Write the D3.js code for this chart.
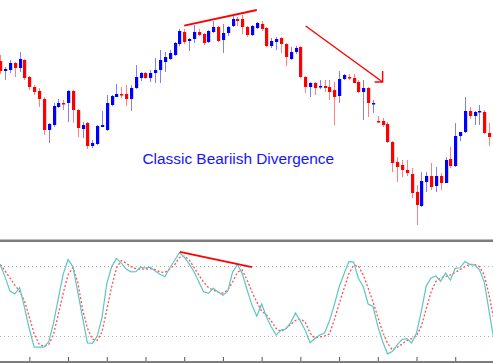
<!DOCTYPE html>
<html>
<head>
<meta charset="utf-8">
<script src="https://cdn.jsdelivr.net/npm/d3@7"></script>
<style>
  body { margin: 0; background: #fff; }
  svg { display: block; }
</style>
</head>
<body>
<div id="chart"></div>
<script>
// price candles, one entry per bar (blue = up, red = down)
const opens  = [189,179,180,187,182,190,173,163,159,151,120,125,143,147,147,159,140,121,127,104,106,123,120,145,153,156,156,151,162,172,177,172,177,180,188,191,195,206,218,209,211,218,216,208,218,223,210,217,224,231,231,223,215,222,226,222,204,208,212,206,191,198,203,173,163,167,163,164,163,160,154,171,173,172,168,158,162,146,129,129,126,108,88,85,80,76,58,44,68,74,64,74,67,91,84,114,118,139,134,138,138,117,119];
const highs  = [195,183,190,188,198,191,174,165,162,153,127,147,151,150,160,160,141,128,128,110,125,139,155,155,166,163,165,165,185,178,178,180,192,200,198,200,208,221,221,212,225,221,217,220,229,224,226,224,234,233,235,224,225,228,229,223,212,213,213,207,203,204,204,174,168,168,170,170,170,168,179,176,176,176,170,170,163,150,134,132,128,109,93,90,90,82,65,78,78,87,83,77,93,103,127,118,153,143,139,145,140,127,125];
const lows   = [176,170,177,173,178,170,160,155,143,115,107,123,142,140,128,127,113,112,101,102,105,123,119,144,153,152,144,139,161,169,171,168,167,167,178,190,194,204,206,199,207,214,205,207,217,208,197,214,223,224,216,213,214,221,219,203,202,200,197,184,190,196,172,157,153,155,161,158,150,125,147,170,170,167,157,130,133,137,127,123,107,78,68,73,74,52,25,43,58,60,58,60,67,82,83,109,117,131,125,125,116,104,110];
const closes = [179,181,187,182,191,172,163,158,151,120,126,144,147,146,159,140,122,125,104,107,124,125,147,154,156,155,151,162,173,177,172,177,180,190,193,197,207,219,208,211,218,215,207,219,223,209,217,223,231,229,223,215,224,227,221,204,209,211,206,193,198,202,173,163,167,162,164,162,158,153,171,175,172,167,158,162,147,147,128,125,108,87,83,80,77,57,45,69,74,63,74,67,90,84,114,118,139,134,138,139,117,113,122];

// stochastic oscillator, %K (solid) and %D (dotted)
const stochK = [81,70.5,58.5,56,61.5,44.5,26,10.5,10.5,10.5,15,31,52.5,73,85.5,79.5,58,35.7,14,13.7,19.5,35.4,65,79.3,86.5,82.5,77.4,75,75.2,79,78.3,79,75.7,73,70.8,78.3,84.7,91.5,87.7,82,75.3,66.5,58,56.6,60.9,57.7,55,58.5,74.8,81.3,73.5,59.4,46.5,37,47.4,36.3,27.7,20.8,25,26,31.5,39.7,32.8,25,14.2,17.8,20.8,22.5,32.8,46.5,62,73,83.8,83.4,69.3,62.4,47.4,45.3,28.5,15.3,4.7,6.7,12.3,17,17.8,14,22.5,41.4,62.8,69.7,71.4,67,74,68,78,78.5,83.8,81.4,80.8,77,66.3,41.4,16.5];
const stochD = [81.3,75.7,69.7,63.7,58.1,50,36.3,21.7,13.1,11,12.7,21.3,38.8,56.8,72.3,78.7,66.3,42.7,26.8,17.4,16.1,23.4,42.3,62,78.3,84.7,82.5,79.5,77.8,77.4,77.4,77.8,77,74.8,74.4,77.4,80.8,87.3,88.5,85.5,79,72.3,66.3,61.5,59.4,57.7,56.8,59.4,66.3,74.8,76.5,68,57.7,49,41.4,38,32.8,26.4,23.8,26.4,29.8,33.3,34.5,32,22.5,18.3,19.1,20,21.7,33.7,47.4,60.3,73.1,80.8,80,72.3,61.1,49.5,36.3,23.4,14,8,10.1,13.1,16.1,17.8,20,28.5,43.1,57.7,66.7,69.7,71,72.3,74.4,77,79.5,81.3,81.4,79.5,72.3,55,33.7];
const levels = [20, 80];
const tickBars = [6, 14, 22, 30, 38, 46, 54, 62, 70, 78, 86, 94];

// annotations: [bar, value] pairs
const priceTrend = [[38, 224.3], [53, 240]];
const priceArrow = [[63.1, 224], [79, 168]];
const stochTrend = [[37.1, 92.2], [52, 79.1]];

const width = 493, height = 363;

const svg = d3.select("#chart").append("svg")
  .attr("width", width)
  .attr("height", height);

svg.append("rect").attr("width", width).attr("height", height).attr("fill", "#fff");

const x = d3.scaleLinear().domain([0, 101]).range([0.3, 489.1]);
const y = d3.scaleLinear().domain([0, 250]).range([250, 0]);
const ys = d3.scaleLinear().domain([0, 100]).range([359.3, 242.7]);

const blue = "#0000ff", red = "#ff0000";
const candles = opens.map((o, i) => ({ i, o, h: highs[i], l: lows[i], c: closes[i] }));

const cg = svg.append("g");
cg.selectAll("line.wick")
  .data(candles)
  .join("line")
    .attr("class", "wick")
    .attr("x1", d => Math.round(x(d.i)) + 0.5)
    .attr("x2", d => Math.round(x(d.i)) + 0.5)
    .attr("y1", d => y(d.h))
    .attr("y2", d => y(d.l))
    .attr("stroke", d => d.c >= d.o ? "#8080ff" : "#ff8080")
    .attr("stroke-width", 1);

cg.selectAll("rect.body")
  .data(candles)
  .join("rect")
    .attr("class", "body")
    .attr("x", d => Math.round(x(d.i)) - 1)
    .attr("width", 3.2)
    .attr("y", d => y(Math.max(d.o, d.c)))
    .attr("height", d => Math.max(1.5, Math.abs(y(d.o) - y(d.c))))
    .attr("fill", d => d.c >= d.o ? blue : red);

// red divergence line and arrow over the prices
const pline = d3.line().x(d => x(d[0])).y(d => y(d[1]));
svg.append("path").attr("d", pline(priceTrend))
  .attr("stroke", red).attr("stroke-width", 1.8).attr("fill", "none");
svg.append("path").attr("d", pline(priceArrow))
  .attr("stroke", red).attr("stroke-width", 1.4).attr("fill", "none");
const tip = priceArrow[1];
svg.append("path")
  .attr("d", `M${x(tip[0])},${y(tip[1]) - 11}L${x(tip[0])},${y(tip[1])}L${x(tip[0]) - 8},${y(tip[1])}`)
  .attr("stroke", red).attr("stroke-width", 1.4).attr("fill", "none");

svg.append("text")
  .attr("x", 142.5)
  .attr("y", 164)
  .attr("font-family", "'Liberation Sans', Arial, sans-serif")
  .attr("font-size", 15.4)
  .attr("fill", "#1414ff")
  .text("Classic Beariish Divergence");

// lower panel
svg.append("rect").attr("x", 0).attr("y", 239.5).attr("width", width).attr("height", 2.5).attr("fill", "#7d7d7d");

svg.selectAll("line.level")
  .data(levels)
  .join("line")
    .attr("class", "level")
    .attr("x1", 0).attr("x2", width)
    .attr("y1", d => Math.round(ys(d)) + 0.5)
    .attr("y2", d => Math.round(ys(d)) + 0.5)
    .attr("stroke", "#b0b0b0")
    .attr("stroke-dasharray", "1,3");

const sline = d3.line().x((d, i) => x(i)).y(d => ys(d));
svg.append("path").attr("d", sline(stochD))
  .attr("stroke", "#ff5050").attr("stroke-width", 1.3)
  .attr("stroke-dasharray", "2,2").attr("fill", "none");
svg.append("path").attr("d", sline(stochK))
  .attr("stroke", "#5cc6c6").attr("stroke-width", 1.2).attr("fill", "none");

const tline = d3.line().x(d => x(d[0])).y(d => ys(d[1]));
svg.append("path").attr("d", tline(stochTrend))
  .attr("stroke", red).attr("stroke-width", 1.8).attr("fill", "none");

// bottom axis
const axis = d3.axisBottom(x).tickValues(tickBars).tickSize(4).tickFormat("");
const ag = svg.append("g").attr("transform", "translate(0,357)").call(axis);
ag.select(".domain").remove();
ag.selectAll(".tick line").attr("stroke", "#555");
svg.append("rect").attr("x", 0).attr("y", 361).attr("width", width).attr("height", 2).attr("fill", "#7d7d7d");
</script>
</body>
</html>
